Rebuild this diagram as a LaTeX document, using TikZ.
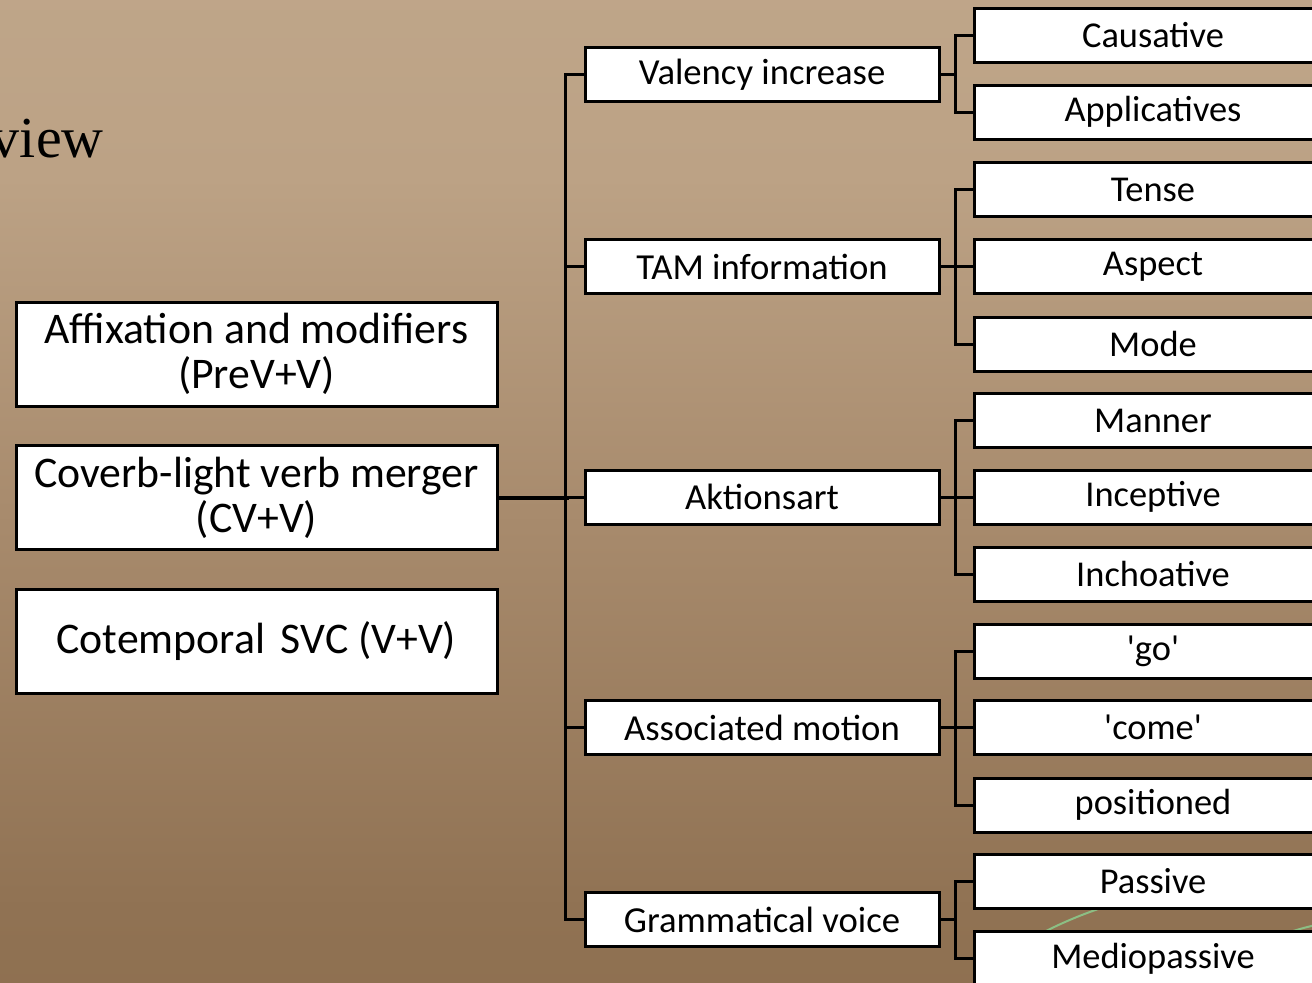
\documentclass[tikz,border=0pt]{standalone}
\usepackage{fontspec}
\setmainfont{Carlito}
\newfontfamily\viewfont{Liberation Serif}
\definecolor{bgA}{HTML}{C6AE93}
\definecolor{bgB}{HTML}{BCA285}
\definecolor{bgC}{HTML}{A88B6D}
\definecolor{bgD}{HTML}{907253}
\definecolor{bgE}{HTML}{8A6B4A}
\definecolor{arcgreen}{HTML}{8CBF84}
\pgfdeclareverticalshading{slidebg}{100bp}{color(0bp)=(bgE); color(13.4bp)=(bgE); color(28.7bp)=(bgD); color(49bp)=(bgC); color(66bp)=(bgB); color(100bp)=(bgA)}
\tikzset{
  box/.style={draw=black, fill=white, line width=2.25pt, inner sep=0pt, align=center, text=black},
  leftbox/.style={box, minimum width=360.75pt, minimum height=78pt, font=\fontsize{32.8}{33.75}\selectfont},
  midbox/.style={box, minimum width=265.5pt, minimum height=40.5pt, font=\fontsize{27.5}{30}\selectfont},
  rightbox/.style={box, minimum width=268.5pt, minimum height=40.5pt, font=\fontsize{27.3}{30}\selectfont},
  conn/.style={draw=black, line width=2.25pt},
}
\begin{document}
\begin{tikzpicture}[x=0.75pt, y=-0.75pt]
\useasboundingbox (0,0) rectangle (1312,982);
\clip (0,0) rectangle (1312,982);
\shade[shading=slidebg] (0,0) rectangle (1312,982);
% faint decorative arcs
\draw[arcgreen, line width=1.5pt] (1020,945) .. controls (1060,922) and (1100,905) .. (1160,892);
\draw[arcgreen, line width=1.5pt] (1270,940) .. controls (1290,931) and (1305,927) .. (1330,922);
% title remnant
\node[anchor=base east, inner sep=0pt, font=\viewfont\fontsize{43.5}{50}\selectfont] (title) at (104,157) {view};
% left boxes
\node[leftbox] (aff) at (256.5,354) {Affixation and modifiers\\(PreV+V)};
\node[leftbox] (cv) at (256.5,497.5) {Coverb-light verb merger\\(CV+V)};
\node[leftbox] (svc) at (256.5,641) {Cotemporal\hspace{0.36em}SVC (V+V)};
% middle boxes
\node[midbox] (val) at (762,74.5) {Valency increase};
\node[midbox] (tam) at (762,266.5) {TAM information};
\node[midbox] (akt) at (762,497) {Aktionsart};
\node[midbox] (am) at (762,727.5) {Associated motion};
\node[midbox] (gv) at (762,919.5) {Grammatical voice};
% right boxes
\node[rightbox] (caus) at (1153,35.5) {Causative};
\node[rightbox] (appl) at (1153,112) {Applicatives};
\node[rightbox] (tense) at (1153,189.5) {Tense};
\node[rightbox] (asp) at (1153,266.5) {Aspect};
\node[rightbox] (mode) at (1153,344) {Mode};
\node[rightbox] (man) at (1153,420.5) {Manner};
\node[rightbox] (incep) at (1153,497) {Inceptive};
\node[rightbox] (inch) at (1153,574) {Inchoative};
\node[rightbox] (go) at (1153,651) {\textquotesingle go\textquotesingle};
\node[rightbox] (come) at (1153,727.5) {\textquotesingle come\textquotesingle};
\node[rightbox] (pos) at (1153,805) {positioned};
\node[rightbox] (pass) at (1153,881.5) {Passive};
\node[rightbox] (medio) at (1153,958.5) {Mediopassive};
% connectors: trunk from CV+V
\draw[conn, line width=3pt] (cv.east) -- ++(70,0);
\foreach \m in {val,tam,akt,am,gv}{
  \draw[conn] (\m.west) -- ++(-18,0) |- (cv.east);
}
% connectors: second level
\foreach \m/\r in {val/caus,val/appl,tam/tense,tam/asp,tam/mode,akt/man,akt/incep,akt/inch,am/go,am/come,am/pos,gv/pass,gv/medio}{
  \draw[conn] (\r.west) -- ++(-17,0) |- (\m.east);
}
\end{tikzpicture}
\end{document}
